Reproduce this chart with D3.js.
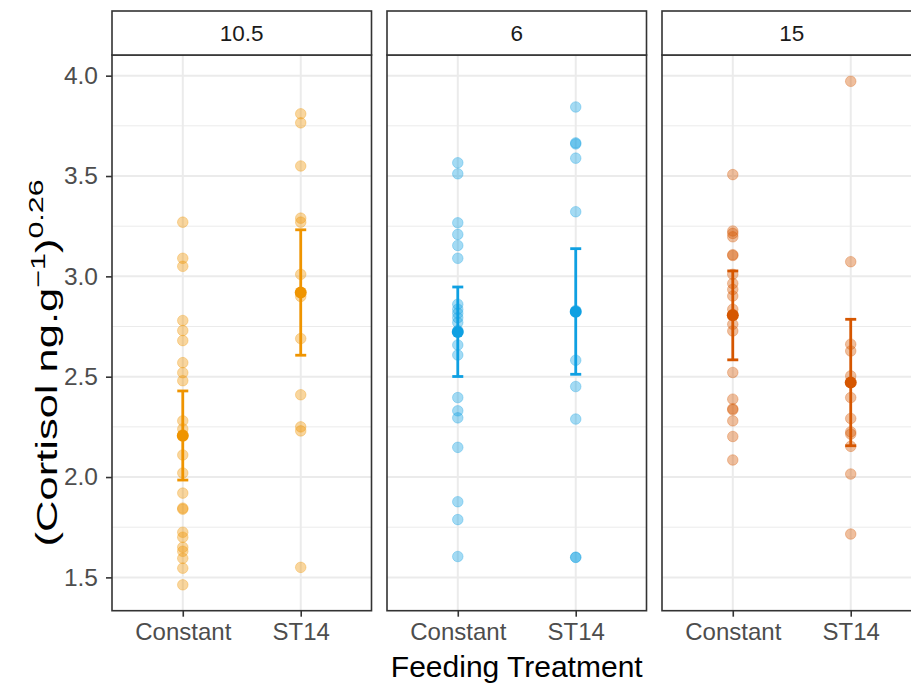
<!DOCTYPE html>
<html>
<head>
<meta charset="utf-8">
<script src="https://cdn.jsdelivr.net/npm/d3@7"></script>
<style>
  body { margin: 0; background: #fff; }
  svg { display: block; font-family: "Liberation Sans", Arial, sans-serif; }
</style>
</head>
<body>
<div id="main"></div>
<script>
const W = 911, H = 684;

// facets (temperature) and treatments
const facets = ["10.5", "6", "15"];
const treatments = ["Constant", "ST14"];
const facetColors = ["#EF9400", "#0FA0E2", "#D55600"];

// raw observations, one list per facet x treatment
const obs_10_5_constant = [3.27, 3.09, 3.05, 2.78, 2.73, 2.68, 2.57, 2.52, 2.48, 2.28, 2.24, 2.21, 2.11, 2.02, 1.92, 1.845, 1.84, 1.725, 1.70, 1.65, 1.63, 1.595, 1.546, 1.463];
const obs_10_5_st14 = [3.81, 3.765, 3.55, 3.29, 3.27, 3.01, 2.90, 2.69, 2.41, 2.25, 2.23, 1.55];
const obs_6_constant = [3.566, 3.511, 3.267, 3.209, 3.154, 3.09, 2.861, 2.836, 2.816, 2.794, 2.77, 2.73, 2.658, 2.608, 2.396, 2.33, 2.295, 2.148, 1.877, 1.788, 1.604];
const obs_6_st14 = [3.844, 3.665, 3.66, 3.589, 3.322, 2.83, 2.582, 2.451, 2.289, 1.60, 1.60];
const obs_15_constant = [3.507, 3.226, 3.214, 3.197, 3.108, 3.104, 3.01, 2.965, 2.935, 2.902, 2.836, 2.81, 2.761, 2.728, 2.521, 2.388, 2.34, 2.335, 2.28, 2.202, 2.085];
const obs_15_st14 = [3.972, 3.073, 2.662, 2.628, 2.504, 2.396, 2.292, 2.225, 2.214, 2.153, 2.015, 1.716];

const observations = [
  [obs_10_5_constant, obs_10_5_st14],
  [obs_6_constant, obs_6_st14],
  [obs_15_constant, obs_15_st14]
];

// estimated means and intervals
const means = [[2.206, 2.919], [2.723, 2.824], [2.806, 2.471]];
const lower = [[1.985, 2.607], [2.501, 2.512], [2.584, 2.156]];
const upper = [[2.429, 3.232], [2.947, 3.138], [3.027, 2.786]];

const yTicks = [1.5, 2.0, 2.5, 3.0, 3.5, 4.0];
const yMinor = [1.75, 2.25, 2.75, 3.25, 3.75];

const panelLeft = 112, panelW = 259.5, panelGap = 15.5;
const stripTop = 11, panelTop = 55, panelBottom = 610.7;

const svg = d3.select("#main").append("svg")
  .attr("width", W).attr("height", H);

const y = d3.scaleLinear().domain([1.334, 4.103]).range([panelBottom, panelTop]);
const x = d3.scalePoint().domain(treatments).range([0, panelW]).padding(0.6);

facets.forEach(function(f, i) {
  const x0 = panelLeft + i * (panelW + panelGap);
  const g = svg.append("g").attr("transform", "translate(" + x0 + ",0)");
  const col = facetColors[i];

  // background grid
  g.append("g").selectAll("line").data(yMinor).enter().append("line")
    .attr("x1", 0).attr("x2", panelW)
    .attr("y1", d => y(d)).attr("y2", d => y(d))
    .attr("stroke", "#EBEBEB").attr("stroke-width", 1);
  g.append("g").selectAll("line").data(yTicks).enter().append("line")
    .attr("x1", 0).attr("x2", panelW)
    .attr("y1", d => y(d)).attr("y2", d => y(d))
    .attr("stroke", "#EBEBEB").attr("stroke-width", 2);
  g.append("g").selectAll("line").data(treatments).enter().append("line")
    .attr("x1", d => x(d)).attr("x2", d => x(d))
    .attr("y1", panelTop).attr("y2", panelBottom)
    .attr("stroke", "#EBEBEB").attr("stroke-width", 2);

  // raw points
  treatments.forEach(function(t, j) {
    g.append("g").selectAll("circle").data(observations[i][j]).enter().append("circle")
      .attr("cx", x(t)).attr("cy", d => y(d)).attr("r", 5.3)
      .attr("fill", col).attr("fill-opacity", 0.38)
      .attr("stroke", col).attr("stroke-opacity", 0.3).attr("stroke-width", 1);
  });

  // error bars and means
  treatments.forEach(function(t, j) {
    const cx = x(t);
    g.append("line").attr("x1", cx).attr("x2", cx)
      .attr("y1", y(lower[i][j])).attr("y2", y(upper[i][j]))
      .attr("stroke", col).attr("stroke-width", 2.8);
    [lower[i][j], upper[i][j]].forEach(function(v) {
      g.append("line").attr("x1", cx - 5.5).attr("x2", cx + 5.5)
        .attr("y1", y(v)).attr("y2", y(v))
        .attr("stroke", col).attr("stroke-width", 2.8);
    });
    g.append("circle").attr("cx", cx).attr("cy", y(means[i][j])).attr("r", 6)
      .attr("fill", col);
  });

  // panel border
  g.append("rect").attr("x", 0).attr("y", panelTop)
    .attr("width", panelW).attr("height", panelBottom - panelTop)
    .attr("fill", "none").attr("stroke", "#333333").attr("stroke-width", 1.6);

  // strip
  g.append("rect").attr("x", 0).attr("y", stripTop)
    .attr("width", panelW).attr("height", panelTop - stripTop)
    .attr("fill", "#ffffff").attr("stroke", "#333333").attr("stroke-width", 1.6);
  g.append("text").attr("x", panelW / 2).attr("y", (stripTop + panelTop) / 2 + 8)
    .attr("text-anchor", "middle").attr("font-size", 22.5).attr("fill", "#1A1A1A")
    .text(f);

  // x axis
  const xa = g.append("g").attr("transform", "translate(0," + panelBottom + ")")
    .call(d3.axisBottom(x).tickSizeOuter(0).tickSize(6).tickPadding(6));
  xa.select(".domain").remove();
  xa.selectAll("line").attr("stroke", "#333333").attr("stroke-width", 1.6);
  xa.selectAll("text").attr("font-size", 24).attr("fill", "#4D4D4D")
    .attr("font-family", "Liberation Sans, Arial, sans-serif");
});

// y axis on first panel
const ya = svg.append("g").attr("transform", "translate(" + panelLeft + ",0)")
  .call(d3.axisLeft(y).tickValues(yTicks).tickFormat(d3.format(".1f"))
        .tickSize(6).tickSizeOuter(0).tickPadding(8));
ya.select(".domain").remove();
ya.selectAll("line").attr("stroke", "#333333").attr("stroke-width", 1.6);
ya.selectAll("text").attr("font-size", 24.5).attr("fill", "#4D4D4D")
  .attr("font-family", "Liberation Sans, Arial, sans-serif");

// axis titles
svg.append("text")
  .attr("x", panelLeft + 1.5 * panelW + panelGap).attr("y", 677)
  .attr("text-anchor", "middle").attr("font-size", 30).attr("fill", "#000")
  .text("Feeding Treatment");

const yt = svg.append("text")
  .attr("transform", "translate(57," + ((panelTop + panelBottom) / 2 + 30) + ") rotate(-90) scale(1.45,1)")
  .attr("text-anchor", "middle").attr("font-size", 30).attr("fill", "#000");
yt.append("tspan").text("(Cortisol ng.g");
yt.append("tspan").attr("dy", -12).attr("font-size", 21).text("\u22121");
yt.append("tspan").attr("dy", 12).text(")");
yt.append("tspan").attr("dy", -14).attr("font-size", 21).text("0.26");
</script>
</body>
</html>
